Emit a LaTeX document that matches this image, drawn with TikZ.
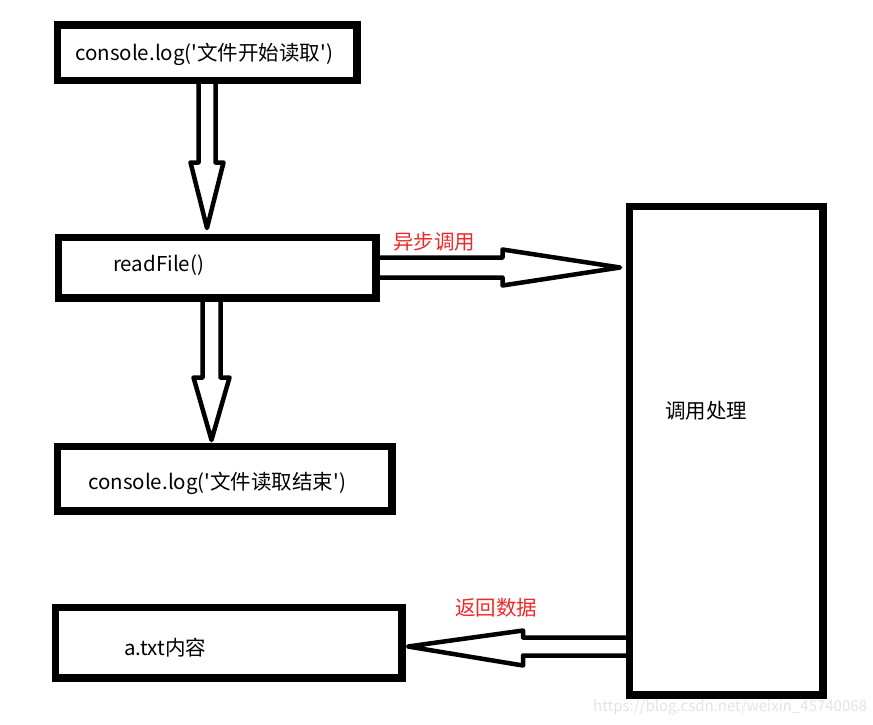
\documentclass[tikz,border=0pt]{standalone}
\usepackage{fontspec}
\setmainfont{Noto Sans CJK SC}[Ligatures=TeXOff]
\usetikzlibrary{calc}
\definecolor{lblred}{RGB}{240,40,40}
\definecolor{wmgray}{RGB}{228,228,228}
\tikzset{
  box/.style={draw=black, line width=5pt, fill=white, rectangle, inner sep=0pt},
  barrow/.style={draw=black, line width=4.5pt, fill=white, line join=round},
  txt/.style={anchor=west, inner sep=0pt, font=\fontsize{20.5}{24}\selectfont},
  lbl/.style={anchor=west, inner sep=0pt, text=lblred, font=\fontsize{20.5}{24}\selectfont},
}
\begin{document}
\begin{tikzpicture}[x=1pt,y=-1pt]
\useasboundingbox (0,0) rectangle (873,725);
\fill[white] (0,0) rectangle (873,725);
% boxes
\node[box, minimum width=297pt, minimum height=53pt] (b1) at (207,53) {};
\node[box, minimum width=315pt, minimum height=58pt] (b2) at (217,267.5) {};
\node[box, minimum width=332pt, minimum height=62pt] (b3) at (224.5,478.5) {};
\node[box, minimum width=344pt, minimum height=68pt] (b4) at (228.5,642.5) {};
\node[box, minimum width=191pt, minimum height=486pt] (r) at (726,450.5) {};
% block arrows
\draw[barrow] ($(b1.south)+(-8.5,0)$) -- ($(b1.south)+(-8.5,80.5)$) -- ($(b1.south)+(-16.5,80.5)$)
  -- ($(b2.north -| b1.south)+(0,-8)$) -- ($(b1.south)+(16.5,80.5)$) -- ($(b1.south)+(8.5,80.5)$) -- ($(b1.south)+(8.5,0)$);
\draw[barrow] ($(b2.south)+(-14.5,0)$) -- ($(b2.south)+(-14.5,78.5)$) -- ($(b2.south)+(-23.5,78.5)$)
  -- ($(b3.north -| b2.south)+(-5.5,-5)$) -- ($(b2.south)+(12.5,78.5)$) -- ($(b2.south)+(3.5,78.5)$) -- ($(b2.south)+(3.5,0)$);
\draw[barrow] ($(b2.east)+(0,-10)$) -- ($(b2.east)+(125.5,-10)$) -- ($(b2.east)+(125.5,-18)$)
  -- ($(r.west |- b2.east)+(-8,0)$) -- ($(b2.east)+(125.5,18)$) -- ($(b2.east)+(125.5,10)$) -- ($(b2.east)+(0,10)$);
\draw[barrow] ($(r.west |- b4.east)+(0,-5)$) -- ($(b4.east)+(120,-5)$) -- ($(b4.east)+(120,-12)$)
  -- ($(b4.east)+(5,4)$) -- ($(b4.east)+(120,23)$) -- ($(b4.east)+(120,13)$) -- ($(r.west |- b4.east)+(0,13)$);
% redraw box borders over shaft ends
\foreach \n in {b1,b2,b3,b4,r} \draw[line width=5pt] (\n.north west) rectangle (\n.south east);
% texts
\node[txt] (t1) at (75,54) {console.log('文件开始读取')};
\node[txt] (t2) at (113,265) {readFile()};
\node[txt] (t3) at (88,483) {console.log('文件读取结束')};
\node[txt] (t4) at (124,648) {a.txt内容};
\node[txt] (t5) at (665,411) {调用处理};
\node[lbl] (l1) at (393,242) {异步调用};
\node[lbl] (l2) at (455,608) {返回数据};
\node[anchor=west, inner sep=0pt, text=wmgray, font=\fontsize{15}{18}\selectfont] (wm) at (593,707) {https://blog.csdn.net/weixin\_45740068};
\end{tikzpicture}
\end{document}
